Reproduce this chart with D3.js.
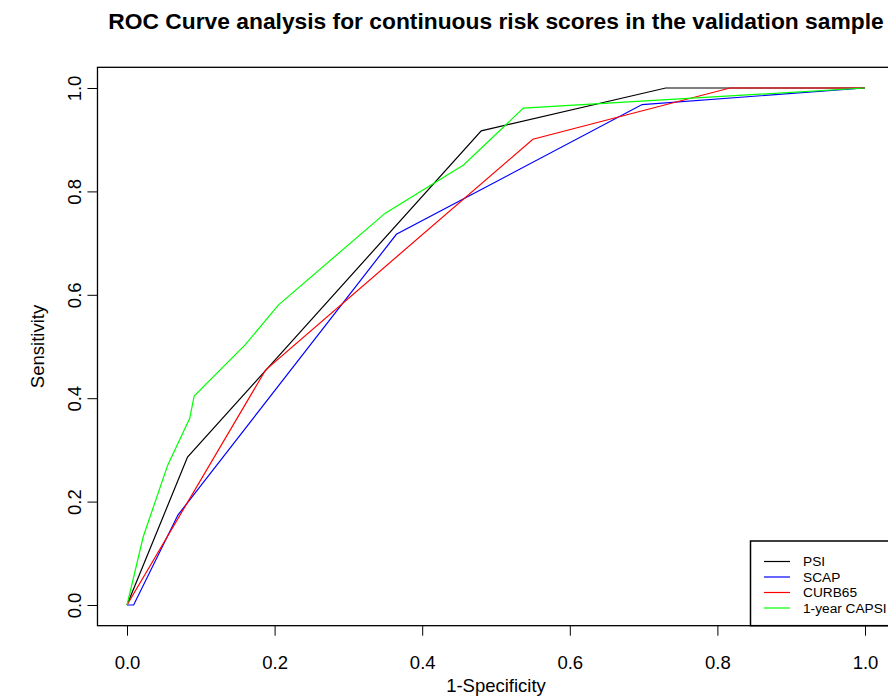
<!DOCTYPE html>
<html><head><meta charset="utf-8">
<script src="https://cdn.jsdelivr.net/npm/d3@7"></script>
<style>body{margin:0;background:#fff;} svg{display:block;font-family:"Liberation Sans",Arial,sans-serif;}</style>
</head><body>
<script>
const seriesNames = ["PSI", "SCAP", "CURB65", "1-year CAPSI"];
const seriesColors = ["#000000", "#0000FF", "#FF0000", "#00FF00"];
const psiX = [0, 0.082, 0.48, 0.73, 1];
const psiY = [0, 0.286, 0.917, 1, 1];
const scapX = [0, 0.009, 0.069, 0.365, 0.698, 1];
const scapY = [0, 0, 0.174, 0.717, 0.968, 1];
const curbX = [0, 0.188, 0.55, 0.817, 1];
const curbY = [0, 0.455, 0.901, 1, 1];
const capsiX = [0, 0.022, 0.055, 0.085, 0.091, 0.16, 0.205, 0.35, 0.456, 0.537, 1];
const capsiY = [0, 0.132, 0.27, 0.361, 0.404, 0.503, 0.58, 0.758, 0.851, 0.961, 1];
const tickValues = [0, 0.2, 0.4, 0.6, 0.8, 1.0];
const tickLabels = ["0.0", "0.2", "0.4", "0.6", "0.8", "1.0"];

const W = 888, H = 700;
const FS = 18.5;
const svg = d3.select("body").append("svg").attr("width", W).attr("height", H);
const x = d3.scaleLinear().domain([0, 1]).range([127, 865]);
const y = d3.scaleLinear().domain([0, 1]).range([605, 88]);

const x0 = x(-0.04), x1 = x(1.04), y0 = y(-0.04), y1 = y(1.04);

// plot box
svg.append("rect").attr("x", x0).attr("y", y1).attr("width", x1 - x0).attr("height", y0 - y1)
  .attr("fill", "none").attr("stroke", "#000").attr("stroke-width", 1.3);

// x axis
const xAxis = d3.axisBottom(x).tickValues(tickValues).tickFormat((d, i) => tickLabels[i]).tickSize(10);
const gx = svg.append("g").attr("transform", `translate(0,${y0})`).call(xAxis);
gx.select(".domain").remove();
gx.selectAll("line").attr("stroke", "#000");
gx.selectAll("text").attr("font-size", FS).attr("fill", "#000").attr("font-family", "Liberation Sans, Arial, sans-serif")
  .attr("dy", null).attr("y", 43);

// y axis
const yAxis = d3.axisLeft(y).tickValues(tickValues).tickFormat((d, i) => tickLabels[i]).tickSize(10);
const gy = svg.append("g").attr("transform", `translate(${x0},0)`).call(yAxis);
gy.select(".domain").remove();
gy.selectAll("line").attr("stroke", "#000");
gy.selectAll("text").attr("font-size", FS).attr("fill", "#000").attr("font-family", "Liberation Sans, Arial, sans-serif")
  .attr("x", null).attr("dy", null).attr("text-anchor", "middle")
  .attr("transform", "translate(-16,0) rotate(-90)");

// titles
svg.append("text").attr("x", (x0 + x1) / 2).attr("y", 29).attr("text-anchor", "middle")
  .attr("font-size", 22.8).attr("font-weight", "bold").text("ROC Curve analysis for continuous risk scores in the validation sample");
svg.append("text").attr("x", (x0 + x1) / 2).attr("y", 692).attr("text-anchor", "middle")
  .attr("font-size", FS).text("1-Specificity");
svg.append("text").attr("transform", `translate(44,${(y0 + y1) / 2}) rotate(-90)`).attr("text-anchor", "middle")
  .attr("font-size", FS).text("Sensitivity");

// curves
const line = d3.line().x(d => x(d[0])).y(d => y(d[1]));
const series = [[psiX, psiY], [scapX, scapY], [curbX, curbY], [capsiX, capsiY]];
series.forEach((s, i) => {
  const pts = s[0].map((v, j) => [v, s[1][j]]);
  svg.append("path").datum(pts).attr("d", line).attr("fill", "none")
    .attr("stroke", seriesColors[i]).attr("stroke-width", 1.2);
});

// legend
const lg = svg.append("g");
lg.append("rect").attr("x", 750.5).attr("y", 541).attr("width", 200).attr("height", y0 - 541)
  .attr("fill", "#fff").attr("stroke", "#000").attr("stroke-width", 1.5);
seriesNames.forEach((n, i) => {
  const yy = 561.5 + i * 15.5;
  lg.append("line").attr("x1", 764).attr("x2", 790).attr("y1", yy).attr("y2", yy)
    .attr("stroke", seriesColors[i]).attr("stroke-width", 1.2);
  lg.append("text").attr("x", 803).attr("y", yy + 4.8).attr("font-size", 13.7).text(n);
});
</script>
</body></html>
